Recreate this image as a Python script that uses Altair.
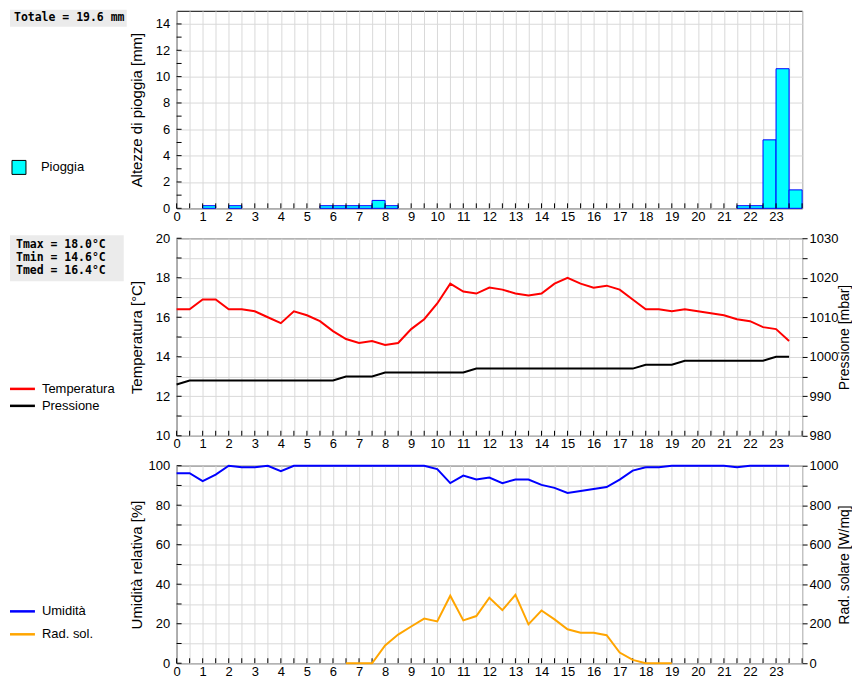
import altair as alt
import pandas as pd

# ---------------- data ----------------
HOURS = [0.0, 0.5, 1.0, 1.5, 2.0, 2.5, 3.0, 3.5, 4.0, 4.5, 5.0, 5.5,
         6.0, 6.5, 7.0, 7.5, 8.0, 8.5, 9.0, 9.5, 10.0, 10.5, 11.0, 11.5,
         12.0, 12.5, 13.0, 13.5, 14.0, 14.5, 15.0, 15.5, 16.0, 16.5, 17.0, 17.5,
         18.0, 18.5, 19.0, 19.5, 20.0, 20.5, 21.0, 21.5, 22.0, 22.5, 23.0, 23.5]

RAIN_MM = [0, 0, 0.2, 0, 0.2, 0, 0, 0, 0, 0, 0, 0.2,
           0.2, 0.2, 0.2, 0.6, 0.2, 0, 0, 0, 0, 0, 0, 0,
           0, 0, 0, 0, 0, 0, 0, 0, 0, 0, 0, 0,
           0, 0, 0, 0, 0, 0, 0, 0.2, 0.2, 5.2, 10.6, 1.4]

TEMP_C = [16.4, 16.4, 16.9, 16.9, 16.4, 16.4, 16.3, 16.0, 15.7, 16.3, 16.1, 15.8,
          15.3, 14.9, 14.7, 14.8, 14.6, 14.7, 15.4, 15.9, 16.7, 17.7, 17.3, 17.2,
          17.5, 17.4, 17.2, 17.1, 17.2, 17.7, 18.0, 17.7, 17.5, 17.6, 17.4, 16.9,
          16.4, 16.4, 16.3, 16.4, 16.3, 16.2, 16.1, 15.9, 15.8, 15.5, 15.4, 14.8]

PRESS_MBAR = [993, 994, 994, 994, 994, 994, 994, 994, 994, 994, 994, 994,
              994, 995, 995, 995, 996, 996, 996, 996, 996, 996, 996, 997,
              997, 997, 997, 997, 997, 997, 997, 997, 997, 997, 997, 997,
              998, 998, 998, 999, 999, 999, 999, 999, 999, 999, 1000, 1000]

HUMID_PCT = [96.2, 96.2, 92.2, 95.5, 100, 99.2, 99.2, 100, 97.2, 100, 100, 100,
             100, 100, 100, 100, 100, 100, 100, 100, 98.3, 91.2, 95.0, 93.0,
             94.0, 91.2, 93.0, 93.0, 90.3, 88.8, 86.2, 87.2, 88.2, 89.2, 93.0, 97.5,
             99.2, 99.2, 100, 100, 100, 100, 100, 99.2, 100, 100, 100, 100]

# night hours have no radiation reading (line only drawn in daytime)
RAD_WM2 = [None, None, None, None, None, None, None, None, None, None, None, None,
           None, 0, 0, 0, 90, 145, 186, 226, 212, 342, 217, 239,
           332, 269, 346, 197, 267, 222, 172, 154, 154, 142, 54, 17,
           0, 0, 0, None, None, None, None, None, None, None, None, None]

TOTAL_RAIN = 19.6
T_MAX, T_MIN, T_MED = 18.0, 14.6, 16.4

X_TICKS = [i / 2 for i in range(49)]
RAIN_GRID = [0, 2, 4, 6, 8, 10, 12, 14]
RAIN_TICKS = list(range(0, 15))
TEMP_TICKS = list(range(10, 21))
PRESS_TICKS = list(range(980, 1031, 5))
HUM_TICKS = list(range(0, 101, 10))
RAD_TICKS = list(range(0, 1001, 100))

# ---------------- styling ----------------
W, H = 627, 198
FONT = "Liberation Sans"
MONO = "DejaVu Sans Mono"
GRID = "#d9d9d9"
BOXGRAY = "#ebebeb"

df = pd.DataFrame({"h": HOURS, "rain": RAIN_MM, "temp": TEMP_C,
                   "press": PRESS_MBAR, "hum": HUMID_PCT, "rad": RAD_WM2})
one = pd.DataFrame({"t": ["x"]})


def x_enc(field="h"):
    return alt.X(f"{field}:Q",
                 scale=alt.Scale(domain=[0, 24], nice=False, zero=False),
                 axis=alt.Axis(values=X_TICKS,
                               labelExpr="datum.value % 1 == 0 && datum.value < 24 ? format(datum.value, 'd') : ''",
                               ticks=False, tickSize=0, domain=False, grid=True,
                               gridColor=GRID, gridWidth=1,
                               labelFont=FONT, labelFontSize=13, labelColor="black",
                               labelPadding=2, labelOverlap=False, labelFlush=False,
                               labelBound=False, title=None))


def y_left(field, domain, values, every, title):
    return alt.Y(f"{field}:Q",
                 scale=alt.Scale(domain=domain, nice=False, zero=False),
                 axis=alt.Axis(orient="left", values=values,
                               labelExpr=f"datum.value % {every} == 0 ? format(datum.value, 'd') : ''",
                               ticks=False, tickSize=0, domain=False, grid=True,
                               gridColor=GRID, gridWidth=1,
                               labelFont=FONT, labelFontSize=13, labelColor="black",
                               labelPadding=7, labelOverlap=False, labelFlush=False,
                               title=title, titleFont=FONT, titleFontSize=15,
                               titleFontWeight="normal", titleColor="black",
                               titleX=-40, titleY=H / 2, titleAngle=270,
                               titleAlign="center", titleBaseline="middle"))


def y_right(field, domain, values, every, title):
    return alt.Y(f"{field}:Q",
                 scale=alt.Scale(domain=domain, nice=False, zero=False),
                 axis=alt.Axis(orient="right", values=values,
                               labelExpr=f"datum.value % {every} == 0 ? format(datum.value, 'd') : ''",
                               ticks=True, tickSize=5, tickColor="black", domain=False,
                               grid=False, labelFont=FONT, labelFontSize=13,
                               labelColor="black", labelPadding=2, labelOverlap=False,
                               labelFlush=False,
                               title=title, titleFont=FONT, titleFontSize=14,
                               titleFontWeight="normal", titleColor="black",
                               titleX=42, titleY=H / 2, titleAngle=270,
                               titleAlign="center", titleBaseline="middle"))


def x_tick_rules():
    return alt.Chart(pd.DataFrame({"h": X_TICKS})).mark_rule(color="black", strokeWidth=1).encode(
        x=x_enc(), y=alt.value(H - 5), y2=alt.value(H))


def y_tick_rules(field, values, domain, ticks, every, title):
    return alt.Chart(pd.DataFrame({field: values})).mark_rule(color="black", strokeWidth=1).encode(
        y=y_left(field, domain, ticks, every, title), x=alt.value(0), x2=alt.value(5))


def rect(x1, x2, y1, y2, **kw):
    return alt.Chart(one).mark_rect(**kw).encode(
        x=alt.value(x1), x2=alt.value(x2), y=alt.value(y1), y2=alt.value(y2))


def label(text, x, y, **kw):
    return alt.Chart(pd.DataFrame({"t": [text]})).mark_text(align="left", **kw).encode(
        x=alt.value(x), y=alt.value(y), text="t:N")


def legend_line(color, y):
    return alt.Chart(one).mark_rule(color=color, strokeWidth=2.5).encode(
        x=alt.value(-167), x2=alt.value(-142), y=alt.value(y))


legend_font = dict(font=FONT, fontSize=13, color="black", baseline="middle")
box_font = dict(font=MONO, fontSize=11.5, fontWeight="bold", color="black")

# ---------------- panel 1 : rain ----------------
rain_title = "Altezze di pioggia [mm]"
bars = alt.Chart(df).transform_filter("datum.rain > 0").transform_calculate(
    h2="datum.h + 0.5").mark_bar(fill="#00ffff", stroke="#0000ff", strokeWidth=1).encode(
    x=x_enc(), x2=alt.X2("h2:Q"),
    y=y_left("rain", [0, 15], RAIN_GRID, 2, rain_title), y2=alt.datum(0))

panel1 = alt.layer(
    bars,
    y_tick_rules("rain", RAIN_TICKS, [0, 15], RAIN_GRID, 2, rain_title),
    x_tick_rules(),
    rect(-167, -50, -1, 16, fill=BOXGRAY),
    label(f"Totale = {TOTAL_RAIN} mm", -163, 7.5, baseline="middle", **box_font),
    rect(-165, -151, 150, 164, fill="#00ffff", stroke="black", strokeWidth=1),
    label("Pioggia", -136, 157, **legend_font),
).properties(width=W, height=H)

# ---------------- panel 2 : temperature / pressure ----------------
temp_title = "Temperatura [°C]"
temp_line = alt.Chart(df).mark_line(color="#ff0000", strokeWidth=2).encode(
    x=x_enc(), y=y_left("temp", [10, 20], TEMP_TICKS, 2, temp_title))
press_line = alt.Chart(df).mark_line(color="black", strokeWidth=2).encode(
    x=x_enc(), y=y_right("press", [980, 1030], PRESS_TICKS, 10, "Pressione [mbar]"))

tbox_text = f"Tmax = {T_MAX:.1f}°C\nTmin = {T_MIN:.1f}°C\nTmed = {T_MED:.1f}°C"
left2 = alt.layer(
    temp_line,
    y_tick_rules("temp", TEMP_TICKS, [10, 20], TEMP_TICKS, 2, temp_title),
    x_tick_rules(),
    rect(-167, -53, -3, 43, fill=BOXGRAY),
    label(tbox_text, -161, 1, baseline="top", lineBreak="\n", lineHeight=13, **box_font),
    legend_line("#ff0000", 151),
    label("Temperatura", -135, 151, **legend_font),
    legend_line("black", 168),
    label("Pressione", -135, 168, **legend_font),
)
panel2 = alt.layer(left2, press_line).resolve_scale(y="independent").properties(width=W, height=H)

# ---------------- panel 3 : humidity / solar radiation ----------------
hum_title = "Umidità relativa [%]"
hum_line = alt.Chart(df).mark_line(color="#0000ff", strokeWidth=2).encode(
    x=x_enc(), y=y_left("hum", [0, 100], HUM_TICKS, 20, hum_title))
rad_line = alt.Chart(df).mark_line(color="#ffa500", strokeWidth=2).encode(
    x=x_enc(), y=y_right("rad", [0, 1000], RAD_TICKS, 200, "Rad. solare [W/mq]"))

left3 = alt.layer(
    hum_line,
    y_tick_rules("hum", HUM_TICKS, [0, 100], HUM_TICKS, 20, hum_title),
    x_tick_rules(),
    legend_line("#0000ff", 146),
    label("Umidità", -135, 146, **legend_font),
    legend_line("#ffa500", 169),
    label("Rad. sol.", -135, 169, **legend_font),
)
panel3 = alt.layer(left3, rad_line).resolve_scale(y="independent").properties(width=W, height=H)

chart = alt.vconcat(panel1, panel2, panel3, spacing=30, bounds="flush").properties(
    padding={"left": 0, "top": 0, "right": 0, "bottom": 0}
).configure_view(stroke="black", strokeWidth=1)

chart.save("out.html", embed_options={"renderer": "svg", "actions": False})
